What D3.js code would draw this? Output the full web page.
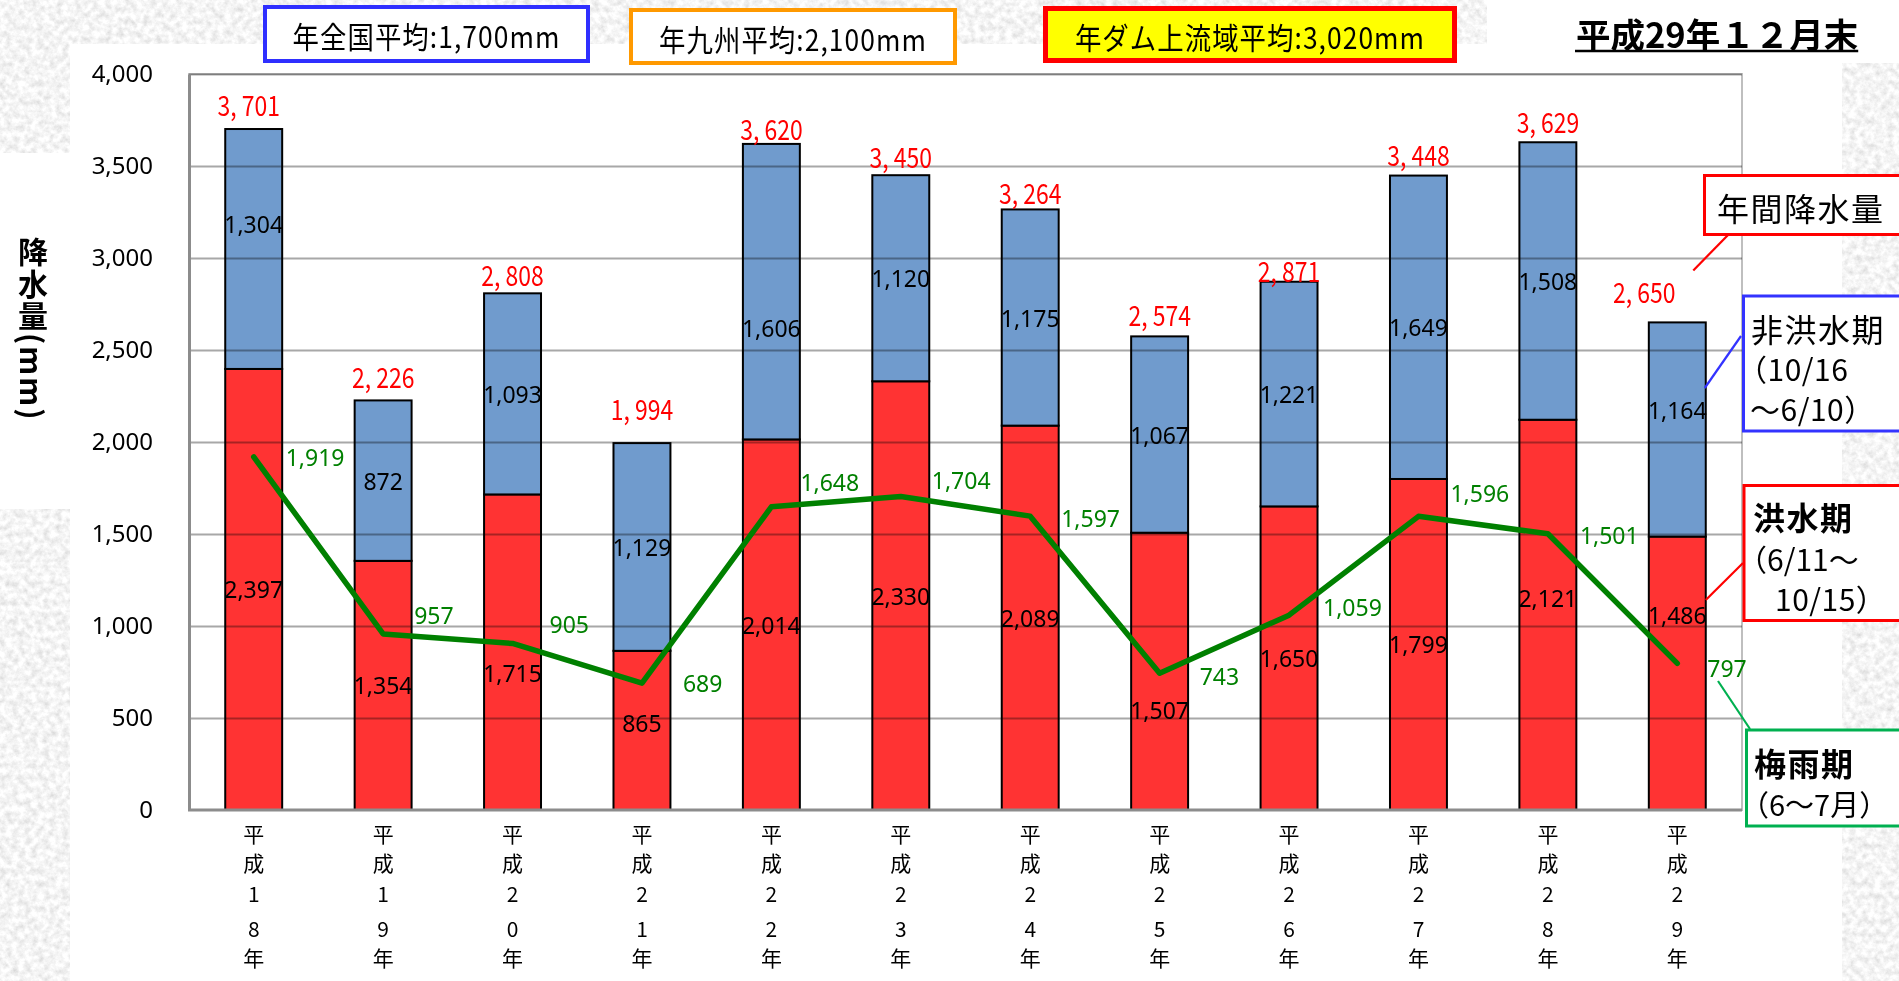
<!DOCTYPE html>
<html>
<head>
<meta charset="utf-8">
<script src="https://cdn.jsdelivr.net/npm/d3@7"></script>
<style>
  html, body { margin: 0; padding: 0; background: #fff; }
  svg { display: block; }
</style>
</head>
<body>
<svg id="chart" width="1899" height="981"></svg>
<script>
// ---- data (mm) ----
const years = ["平成18年", "平成19年", "平成20年", "平成21年", "平成22年", "平成23年",
               "平成24年", "平成25年", "平成26年", "平成27年", "平成28年", "平成29年"];
const floodSeason    = [2397, 1354, 1715,  865, 2014, 2330, 2089, 1507, 1650, 1799, 2121, 1486]; // 洪水期
const nonFloodSeason = [1304,  872, 1093, 1129, 1606, 1120, 1175, 1067, 1221, 1649, 1508, 1164]; // 非洪水期
const annualTotal    = [3701, 2226, 2808, 1994, 3620, 3450, 3264, 2574, 2871, 3448, 3629, 2650]; // 年間降水量
const rainySeason    = [1919,  957,  905,  689, 1648, 1704, 1597,  743, 1059, 1596, 1501,  797]; // 梅雨期
const yTicks = [0, 500, 1000, 1500, 2000, 2500, 3000, 3500, 4000];
const averages = ["年全国平均:1,700mm", "年九州平均:2,100mm", "年ダム上流域平均:3,020mm"];
const titleText = "平成29年１２月末";
const yTitle = "降水量(mm)";

// ---- hand-placed label nudges (px) ----
const floodLabelDy    = [0, 0, 21, -7, 0, 0, 0, 39, 0, 0, -17, -58];
const nonFloodLabelDy = [-25, 0, 0, 0, 36, 0, 0, 0, 0, 0, 0, -19];
const totalLabelDy    = [-26, -25, -20, -36, -16, -20, -18, -23, -12, -22, -22, -32];
const totalLabelDx    = [-5, 0, 0, 0, 0, 0, 0, 0, 0, 0, 0, -33];
const rainyLabelDx    = [32, 31, 37, 41, 29, 31, 31, 40, 34, 32, 32, 30];
const rainyLabelDy    = [0, -19, -19, 0, -25, -16, 2, 3, -8, -23, 1, 5];

const JP = "'Noto Sans CJK JP', 'Noto Sans', sans-serif";
const NUM = "'Noto Sans', 'Liberation Sans', sans-serif";

const svg = d3.select("#chart");
const W = 1899, H = 981;

// ---- paper background with stone texture in the margins ----
const defs = svg.append("defs");
const f = defs.append("filter").attr("id", "stone")
  .attr("x", 0).attr("y", 0).attr("width", "100%").attr("height", "100%");
f.append("feTurbulence").attr("type", "fractalNoise")
  .attr("baseFrequency", 0.16).attr("numOctaves", 4).attr("seed", 7);
f.append("feColorMatrix").attr("type", "matrix")
  .attr("values", "0.5 0 0 0 0.66  0.5 0 0 0 0.66  0.5 0 0 0 0.66  0 0 0 0 1");
svg.append("rect").attr("width", W).attr("height", H).attr("filter", "url(#stone)");
const white = [[70, 44, 1772, 937], [1487, 0, 412, 63], [0, 153, 70, 356]];
svg.selectAll("rect.paper").data(white).join("rect").attr("class", "paper")
  .attr("x", d => d[0]).attr("y", d => d[1]).attr("width", d => d[2]).attr("height", d => d[3])
  .attr("fill", "#fff");

// ---- scales ----
const plot = { left: 189, right: 1742, top: 74, bottom: 810 };
const x = d3.scaleBand().domain(years).range([plot.left, plot.right])
  .paddingInner(0.56).paddingOuter(0.28);
const y = d3.scaleLinear().domain([0, 4000]).range([plot.bottom, plot.top]);
const cx = i => x(years[i]) + x.bandwidth() / 2;
const fmt = d3.format(",");

// plot border (top / right)
svg.append("rect").attr("x", plot.left).attr("y", plot.top)
  .attr("width", plot.right - plot.left).attr("height", plot.bottom - plot.top)
  .attr("fill", "#fff").attr("stroke", "#bfbfbf").attr("stroke-width", 2);

// ---- stacked bars ----
const rows = years.map((yr, i) => ({ year: yr, flood: floodSeason[i], nonflood: nonFloodSeason[i] }));
const stacked = d3.stack().keys(["flood", "nonflood"])(rows);
const colors = { flood: "#ff3333", nonflood: "#709bcd" };
svg.append("g").selectAll("g").data(stacked).join("g")
  .attr("fill", s => colors[s.key])
  .selectAll("rect").data(s => s).join("rect")
  .attr("x", d => x(d.data.year))
  .attr("y", d => y(d[1]))
  .attr("width", x.bandwidth())
  .attr("height", d => y(d[0]) - y(d[1]))
  .attr("stroke", "#000").attr("stroke-width", 2);

// ---- gridlines drawn over bars ----
svg.append("g")
  .attr("transform", `translate(${plot.left},0)`)
  .call(d3.axisLeft(y).tickValues(yTicks.filter(v => v > 0)).tickSize(-(plot.right - plot.left)).tickFormat(""))
  .call(g => g.select(".domain").remove())
  .call(g => g.selectAll("line").attr("stroke", "#a8a8a8").attr("stroke-width", 2)
    .style("mix-blend-mode", "multiply"));

// ---- axes ----
const yAxis = svg.append("g").attr("transform", `translate(${plot.left},0)`)
  .call(d3.axisLeft(y).tickValues(yTicks).tickSize(0).tickPadding(36).tickFormat(fmt));
yAxis.select(".domain").attr("stroke", "#8c8c8c").attr("stroke-width", 3);
yAxis.selectAll("text").attr("font-family", NUM).attr("font-size", 24).attr("fill", "#000");

const xAxis = svg.append("g").attr("transform", `translate(0,${plot.bottom})`)
  .call(d3.axisBottom(x).tickSize(0).tickFormat(""));
xAxis.select(".domain").attr("stroke", "#8c8c8c").attr("stroke-width", 3)
  .attr("d", `M${plot.left - 1},0H${plot.right}`);
const rowY = [23, 52, 83, 118, 147];
xAxis.selectAll(".tick").each(function (d) {
  const chars = Array.from(d);
  d3.select(this).selectAll("text.ch").data(chars).join("text").attr("class", "ch")
    .attr("x", 0).attr("y", (c, k) => rowY[k])
    .attr("text-anchor", "middle").attr("dominant-baseline", "central")
    .attr("font-family", JP).attr("font-size", 21).attr("fill", "#000")
    .text(c => c);
});

// ---- segment value labels ----
const segLabels = svg.append("g").attr("font-family", NUM).attr("font-size", 23)
  .attr("fill", "#000").attr("text-anchor", "middle").attr("dominant-baseline", "central");
segLabels.selectAll("text.fl").data(floodSeason).join("text").attr("class", "fl")
  .attr("x", (v, i) => cx(i))
  .attr("y", (v, i) => y(v / 2) + floodLabelDy[i])
  .text(fmt);
segLabels.selectAll("text.nf").data(nonFloodSeason).join("text").attr("class", "nf")
  .attr("x", (v, i) => cx(i))
  .attr("y", (v, i) => y(floodSeason[i] + v / 2) + nonFloodLabelDy[i])
  .text(fmt);

// annual totals (tall, narrow digits)
svg.append("g").selectAll("text").data(annualTotal).join("text")
  .attr("transform", (v, i) => `translate(${cx(i) + totalLabelDx[i]},${y(v) + totalLabelDy[i]}) scale(0.82,1)`)
  .attr("text-anchor", "middle").attr("dominant-baseline", "central")
  .attr("font-family", JP).attr("font-size", 28).attr("fill", "#ff0000")
  .text(v => fmt(v).replace(",", ", "));

// ---- rainy-season line ----
const line = d3.line().x((v, i) => cx(i)).y(v => y(v));
svg.append("path").datum(rainySeason).attr("d", line)
  .attr("fill", "none").attr("stroke", "#008000").attr("stroke-width", 5.5)
  .attr("stroke-linejoin", "round").attr("stroke-linecap", "round");
svg.append("g").selectAll("text").data(rainySeason).join("text")
  .attr("x", (v, i) => cx(i) + rainyLabelDx[i])
  .attr("y", (v, i) => y(v) + rainyLabelDy[i])
  .attr("dominant-baseline", "central")
  .attr("font-family", NUM).attr("font-size", 23).attr("fill", "#008000")
  .text(fmt);

// ---- y-axis title, set vertically ----
svg.append("text")
  .attr("x", 33).attr("y", 237)
  .style("writing-mode", "vertical-rl")
  .attr("font-family", JP).attr("font-weight", "bold")
  .attr("font-size", 30).attr("letter-spacing", 2).attr("fill", "#000")
  .text(yTitle);

// ---- callouts on the right ----
const call = svg.append("g").attr("font-family", JP).attr("fill", "#000");
function box(x0, y0, h, color, sw, fill) {
  call.append("rect").attr("x", x0).attr("y", y0).attr("width", 260).attr("height", h)
    .attr("fill", fill || "#fff").attr("stroke", color).attr("stroke-width", sw);
}
function leader(x1, y1, x2, y2, color) {
  call.append("line").attr("x1", x1).attr("y1", y1).attr("x2", x2).attr("y2", y2)
    .attr("stroke", color).attr("stroke-width", 2.2);
}
function label(tx, ty, s, size, bold, spacing) {
  call.append("text").attr("x", tx).attr("y", ty).attr("dominant-baseline", "central")
    .attr("font-size", size).attr("font-weight", bold ? "bold" : "normal")
    .attr("letter-spacing", spacing).text(s);
}
const last = years.length - 1;
const barRight = x(years[last]) + x.bandwidth();

leader(1728, 235, cx(last) + totalLabelDx[last] + 49, y(annualTotal[last]) + totalLabelDy[last] - 20, "#ff0000");
box(1704.5, 175.5, 59, "#ff0000", 3);
label(1717, 207, "年間降水量", 32, false, 1.5);

leader(1741, 336, barRight - 1, 388, "#3333ff");
box(1743.5, 296, 135, "#3333ff", 3);
label(1751, 328, "非洪水期", 32, false, 1.5);
label(1737, 368, "（10/16", 30, false, 0.5);
label(1750, 408, " ～6/10）", 30, false, 0.5);

leader(1743, 563, barRight, 600, "#ff0000");
box(1744, 485.5, 135, "#ff0000", 3);
label(1753, 516, "洪水期", 32, true, 1.5);
label(1737, 558, "（6/11～", 30, false, 0);
label(1775, 598, "10/15）", 30, false, 0.5);

leader(1718, 681, 1750, 729, "#00b050");
box(1746.5, 730, 96, "#00b050", 3);
label(1754, 762, "梅雨期", 32, true, 1.5);
label(1740, 803, "（6～7月）", 29, false, 0);

// ---- average boxes along the top ----
const topBoxes = [
  { x: 265, y: 7, w: 323, h: 54, stroke: "#2f2fff", sw: 4, fill: "#fff" },
  { x: 631, y: 10, w: 324, h: 53, stroke: "#ff9900", sw: 4, fill: "#fff" },
  { x: 1045.5, y: 8.5, w: 409, h: 52, stroke: "#ff0000", sw: 5, fill: "#ffff00" }
];
const tb = svg.append("g").selectAll("g").data(averages).join("g");
tb.append("rect")
  .attr("x", (s, i) => topBoxes[i].x).attr("y", (s, i) => topBoxes[i].y)
  .attr("width", (s, i) => topBoxes[i].w).attr("height", (s, i) => topBoxes[i].h)
  .attr("fill", (s, i) => topBoxes[i].fill)
  .attr("stroke", (s, i) => topBoxes[i].stroke).attr("stroke-width", (s, i) => topBoxes[i].sw);
tb.append("text")
  .attr("transform", (s, i) => `translate(${topBoxes[i].x + topBoxes[i].w / 2},${topBoxes[i].y + topBoxes[i].h / 2 + 1}) scale(0.88,1)`)
  .attr("text-anchor", "middle").attr("dominant-baseline", "central")
  .attr("font-family", JP).attr("font-size", 30).attr("letter-spacing", 1.2)
  .attr("fill", "#000").text(s => s);

// ---- date title ----
const title = svg.append("text").attr("x", 1576).attr("y", 33)
  .attr("dominant-baseline", "central")
  .attr("font-family", JP).attr("font-weight", "bold").attr("font-size", 34.5)
  .attr("fill", "#000").text(titleText);
const tw = title.node().getComputedTextLength();
svg.append("line").attr("x1", 1575).attr("x2", 1576 + tw).attr("y1", 51).attr("y2", 51)
  .attr("stroke", "#000").attr("stroke-width", 2.5);
</script>
</body>
</html>
